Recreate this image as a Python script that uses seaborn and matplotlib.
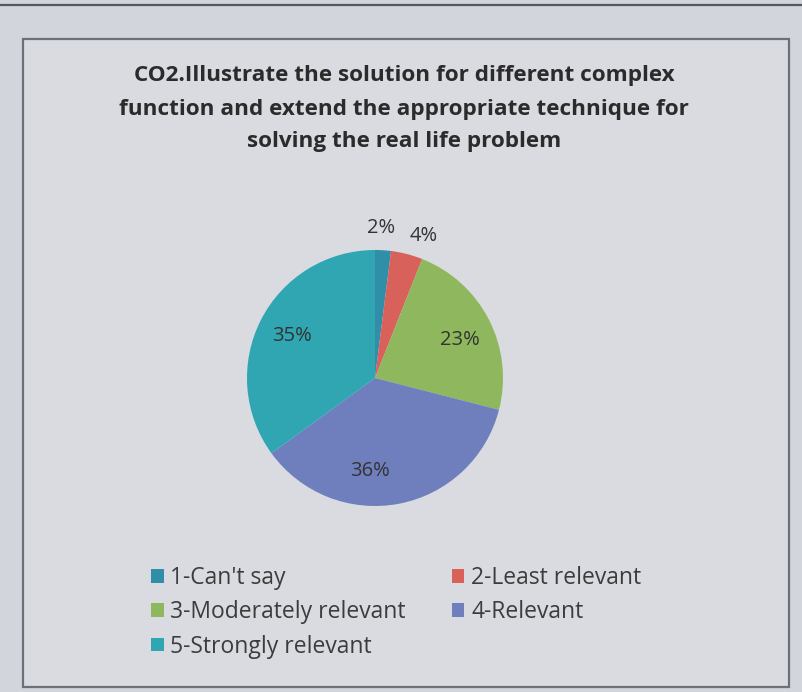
import matplotlib
matplotlib.use("Agg")
import matplotlib.pyplot as plt
import seaborn as sns
import numpy as np
from matplotlib.patches import Rectangle, Patch

# Survey responses for CO2 (percent of respondents)
categories = ["1-Can't say", "2-Least relevant", "3-Moderately relevant",
              "4-Relevant", "5-Strongly relevant"]
shares = [2, 4, 23, 36, 35]
pct_labels = ["2%", "4%", "23%", "36%", "35%"]
title_text = ("CO2.Illustrate the solution for different complex\n"
              "function and extend the appropriate technique for\n"
              "solving the real life problem")

sns.set_theme(style="white")
plt.rcParams["font.family"] = ["Open Sans", "DejaVu Sans"]

palette = sns.color_palette(["#2f8ea8", "#d8615c", "#8fb85e", "#6f7fbd", "#2fa6b2"])

W, H = 803, 692
fig = plt.figure(figsize=(W / 100, H / 100), dpi=100)
fig.patch.set_facecolor("#d3d5dc")

# page frame and chart border
bg = fig.add_axes([0, 0, 1, 1], zorder=0)
bg.set_xlim(0, W)
bg.set_ylim(H, 0)
bg.axis("off")
bg.plot([0, W], [5, 5], color="#55575e", lw=1.6)
bg.add_patch(Rectangle((23, 39), 766, 648, facecolor="#d9dbe1",
                       edgecolor="#6d7078", lw=1.6))

fig.text(404 / W, 1 - 109 / H, title_text, ha="center", va="center",
         fontsize=16.2, fontweight="bold", color="#2b2b2b", linespacing=1.75)

# pie
cx, cy, R = 375, 378, 128
ax = fig.add_axes([(cx - R) / W, (H - cy - R) / H, 2 * R / W, 2 * R / H], zorder=1)
wedges, _ = ax.pie(shares, colors=palette, startangle=90, counterclock=False,
                   wedgeprops=dict(linewidth=0))
ax.set_xlim(-1, 1)
ax.set_ylim(-1, 1)
ax.set_aspect("equal")

# percentage labels: small slices outside the rim, the rest inside
cum = np.cumsum([0] + shares[:-1])
angle_override = {"2%": 87.5, "4%": 71, "23%": 24, "36%": -93}
for s, c, lab in zip(shares, cum, pct_labels):
    ang = 90 - (c + s / 2) * 3.6
    ang = np.deg2rad(angle_override.get(lab, ang))
    d = 1.17 if s < 5 else 0.73
    ax.text(d * np.cos(ang), d * np.sin(ang), lab, ha="center", va="center",
            fontsize=14.5, color="#333333", clip_on=False)

# legend, filled row by row across two columns
order = [0, 2, 4, 1, 3]
handles = [Patch(facecolor=palette[i], edgecolor="none") for i in order]
labels = [categories[i] for i in order]
fig.legend(handles, labels, loc="upper left", ncol=2,
           bbox_to_anchor=(151 / W, 1 - 566 / H), frameon=False,
           fontsize=16.5, labelcolor="#3c3c3c", handlelength=0.55,
           handleheight=0.55, handletextpad=0.3, columnspacing=2.0,
           labelspacing=0.45, borderaxespad=0, borderpad=0)

fig.savefig("out.png", dpi=100, facecolor=fig.get_facecolor())
